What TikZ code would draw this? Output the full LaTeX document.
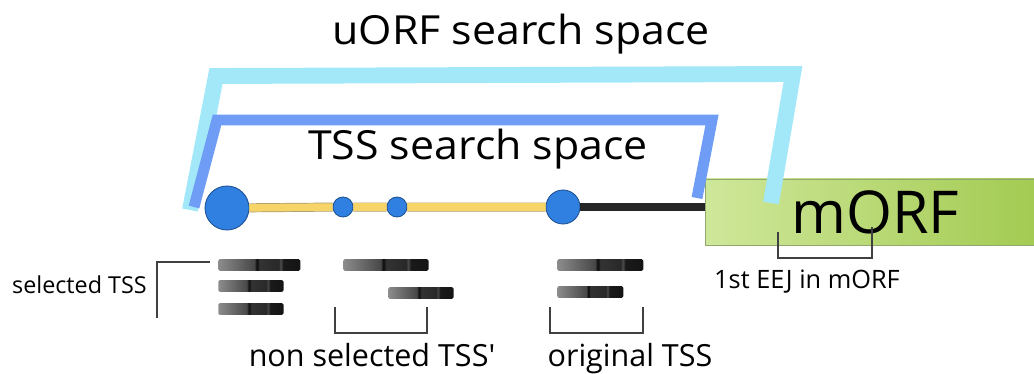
\documentclass[tikz,border=0pt]{standalone}
\usepackage{fontspec}
\setmainfont{Open Sans}[Ligatures=TeXOff]
\usetikzlibrary{positioning}

\definecolor{uorfblue}{HTML}{A2E8F9}
\definecolor{tssblue}{HTML}{6F9DF5}
\definecolor{sitefill}{HTML}{2F80E0}
\definecolor{siteedge}{HTML}{1E4F8F}
\definecolor{axisyellow}{HTML}{F7D468}
\definecolor{axisedge}{HTML}{A89A70}
\definecolor{morfleft}{HTML}{CFE79A}
\definecolor{morfright}{HTML}{A2CA50}
\definecolor{morfedge}{HTML}{8FA870}

% read from left to right: grey fade, dark cut, two darker blocks
\pgfdeclarehorizontalshading{tssbar}{100bp}{color(0bp)=(black!45); color(25bp)=(black!45);
  color(47bp)=(black!72); color(48.5bp)=(black!97); color(50bp)=(black!80);
  color(62bp)=(black!84); color(63bp)=(black!68); color(64.5bp)=(black!90);
  color(75bp)=(black!92); color(100bp)=(black!92)}

% slightly widened heading text
\newcommand{\wide}[1]{\scalebox{1.07}[1]{#1}}

\begin{document}
\begin{tikzpicture}[
        x=0.025cm, y=-0.025cm,
        every node/.style={inner sep=0pt, align=center},
        site/.style={circle, draw=siteedge, fill=sitefill, line width=0.6pt},
        bar/.style={anchor=west, shading=tssbar, rounded corners=1pt, minimum height=0.29cm},
        bracket/.style={draw=black!75, line width=0.9pt},
        big/.style={anchor=base, font=\fontsize{28.5}{32}\selectfont},
        label/.style={anchor=base, font=\fontsize{21.7}{26}\selectfont},
        small/.style={anchor=base, font=\fontsize{16.6}{20}\selectfont},
        uorfspace/.style={draw=uorfblue, line width=11.3pt, line join=miter},
        tssspace/.style={draw=tssblue, line width=7.8pt, line join=miter}
    ]
  \useasboundingbox (0,0) rectangle (1034,374);

  % Nodes
  \node (uorf) at (521,45) [big] {\wide{uORF search space}};
  \node (tss) at (478,159) [big] {\wide{TSS search space}};

  \node (first) at (227,208) [site, minimum size=1.1cm] {};
  \node (mid1) at (343,207) [site, minimum size=0.5cm] {};
  \node (mid2) at (397,207) [site, minimum size=0.5cm] {};
  \node (orig) at (563,207) [site, minimum size=0.85cm] {};
  \node (morf) at (705,212) [anchor=west, minimum width=8.5cm, minimum height=1.65cm,
        left color=morfleft, right color=morfright, draw=morfedge,
        font=\fontsize{42}{46}\selectfont] {mORF};

  % TSS reads
  \node (sel1) at (218,265) [bar, minimum width=2.05cm] {};
  \node (sel2) at (218,286) [bar, minimum width=1.63cm] {};
  \node (sel3) at (218,309) [bar, minimum width=1.63cm] {};
  \node (non1) at (343,265) [bar, minimum width=2.13cm] {};
  \node (non2) at (388,293) [bar, minimum width=1.63cm] {};
  \node (org1) at (557,265) [bar, minimum width=2.15cm] {};
  \node (org2) at (557,292) [bar, minimum width=1.65cm] {};

  % Labels
  \node (seltext) at (147,293) [small, anchor=base east] {selected TSS};
  \node (nontext) at (372,366) [label] {non selected TSS'};
  \node (orgtext) at (630,366) [label] {original TSS};
  \node (eejtext) at (807,288) [small, font=\fontsize{18}{22}\selectfont] {1st EEJ in mORF};

  % Axis
  \draw[draw=axisedge, line width=0.5pt, double=axisyellow, double distance=5.4pt]
    (first) -- (mid1) (mid1) -- (mid2) (mid2) -- (orig);
  \draw[black!85, line width=5pt] (orig) -- (orig -| morf.west);

  % Search spaces
  \coordinate (u1) at (190,210);
  \coordinate (u2) at (216,76);
  \coordinate (u3) at (793,74);
  \coordinate (u4) at (771,203);
  \coordinate (t1) at (194,207);
  \coordinate (t2) at (217,120);
  \coordinate (t3) at (712,120);
  \coordinate (t4) at (697,198);
  \draw[uorfspace] (u1) -- (u2) -- (u3) -- (u4);
  \draw[tssspace] (t1) -- (t2) -- (t3) -- (t4);

  % Brackets
  \draw[bracket] ([xshift=-0.2cm]sel1.north west |- 0,262) -| (157,318);
  \draw[bracket] (335,307) |- (427,333) -- (427,307);
  \draw[bracket] (550,307) |- (643,333) -- (643,307);
  \draw[bracket] (778,232) |- (872,258) -- (872,227);
\end{tikzpicture}
\end{document}
